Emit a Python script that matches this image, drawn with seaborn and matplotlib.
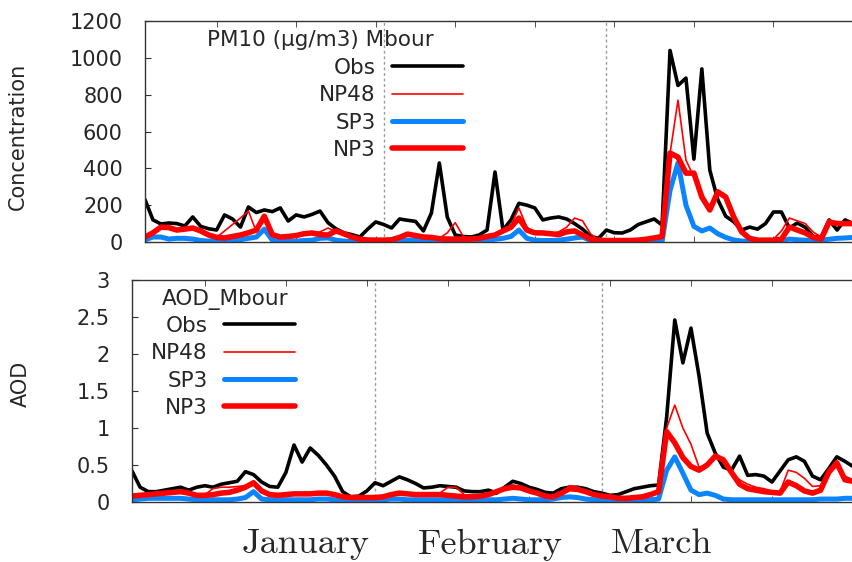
import numpy as np
import seaborn as sns
import matplotlib.pyplot as plt
from matplotlib.ticker import FuncFormatter

# daily values, 1 January .. 31 March
days = np.arange(1, 91)

pm_obs = [230, 120, 98, 103, 100, 87, 136, 85, 72, 65,
          147, 125, 81, 190, 160, 174, 165, 185, 114, 147,
          136, 150, 168, 105, 72, 50, 40, 27, 70, 109,
          95, 76, 125, 118, 112, 60, 157, 429, 135, 38,
          30, 27, 38, 65, 380, 65, 120, 210, 200, 185,
          120, 130, 136, 125, 100, 70, 30, 20, 65, 50,
          49, 65, 95, 110, 125, 92, 1040, 850, 890, 450,
          940, 390, 230, 140, 110, 65, 81, 70, 100, 163,
          163, 76, 103, 80, 30, 27, 120, 65, 120, 100]
pm_np48 = [35, 55, 78, 72, 62, 68, 72, 55, 35, 25,
           60, 95, 130, 168, 55, 140, 38, 27, 30, 35,
           45, 49, 55, 76, 55, 35, 25, 15, 11, 10,
           10, 12, 25, 40, 35, 27, 25, 20, 50, 105,
           30, 16, 20, 30, 38, 60, 90, 185, 80, 50,
           49, 45, 55, 80, 130, 115, 45, 10, 8, 5,
           5, 5, 5, 5, 5, 30, 480, 770, 445, 353,
           266, 174, 282, 255, 136, 49, 15, 15, 15, 15,
           60, 130, 115, 100, 54, 27, 120, 105, 100, 100]
pm_sp3 = [11, 27, 27, 16, 20, 20, 16, 8, 5, 5,
          5, 8, 12, 20, 27, 70, 10, 5, 5, 5,
          8, 10, 20, 22, 10, 5, 3, 2, 2, 2,
          2, 3, 5, 11, 8, 5, 5, 5, 5, 5,
          5, 5, 5, 8, 15, 20, 30, 65, 20, 10,
          8, 8, 10, 15, 22, 27, 8, 3, 2, 2,
          2, 2, 2, 2, 2, 3, 280, 430, 200, 85,
          60, 76, 45, 25, 11, 5, 5, 5, 5, 5,
          5, 16, 12, 10, 8, 10, 15, 20, 22, 25]
pm_np3 = [27, 50, 81, 78, 65, 70, 76, 60, 38, 25,
          22, 30, 38, 50, 65, 140, 40, 27, 30, 35,
          45, 49, 40, 38, 60, 45, 27, 15, 11, 10,
          10, 12, 25, 43, 35, 27, 25, 18, 16, 16,
          16, 16, 20, 30, 38, 60, 80, 130, 65, 50,
          49, 45, 40, 55, 60, 38, 16, 10, 8, 8,
          8, 8, 10, 15, 22, 30, 483, 461, 374, 374,
          244, 174, 272, 244, 136, 55, 20, 10, 10, 10,
          15, 81, 65, 49, 25, 16, 109, 100, 100, 100]

aod_obs = [0.42, 0.2, 0.14, 0.14, 0.16, 0.18, 0.2, 0.16, 0.2, 0.22,
           0.2, 0.24, 0.26, 0.28, 0.41, 0.37, 0.27, 0.21, 0.2, 0.4,
           0.77, 0.54, 0.73, 0.63, 0.5, 0.35, 0.14, 0.07, 0.08, 0.15,
           0.26, 0.22, 0.28, 0.34, 0.3, 0.25, 0.19, 0.2, 0.22, 0.21,
           0.2, 0.15, 0.14, 0.14, 0.16, 0.12, 0.2, 0.28, 0.25, 0.2,
           0.17, 0.13, 0.12, 0.18, 0.2, 0.2, 0.18, 0.14, 0.12, 0.09,
           0.1, 0.14, 0.18, 0.2, 0.22, 0.23, 1.15, 2.46, 1.88, 2.35,
           1.7, 0.93, 0.66, 0.47, 0.43, 0.62, 0.36, 0.37, 0.35, 0.27,
           0.42, 0.57, 0.61, 0.55, 0.35, 0.3, 0.45, 0.61, 0.55, 0.48]
aod_np48 = [0.08, 0.09, 0.1, 0.11, 0.12, 0.13, 0.14, 0.12, 0.09, 0.1,
            0.18, 0.2, 0.2, 0.21, 0.22, 0.27, 0.15, 0.1, 0.09, 0.1,
            0.11, 0.11, 0.11, 0.12, 0.12, 0.1, 0.07, 0.06, 0.06, 0.06,
            0.06, 0.07, 0.1, 0.12, 0.11, 0.1, 0.1, 0.1, 0.12, 0.2,
            0.2, 0.1, 0.07, 0.08, 0.1, 0.14, 0.18, 0.23, 0.2, 0.15,
            0.12, 0.08, 0.07, 0.12, 0.22, 0.2, 0.15, 0.1, 0.08, 0.07,
            0.05, 0.05, 0.06, 0.07, 0.1, 0.14, 1.0, 1.31, 1.0, 0.78,
            0.47, 0.5, 0.62, 0.57, 0.4, 0.3, 0.24, 0.2, 0.18, 0.15,
            0.14, 0.43, 0.4, 0.32, 0.21, 0.22, 0.45, 0.47, 0.35, 0.3]
aod_sp3 = [0.03, 0.04, 0.05, 0.05, 0.05, 0.05, 0.05, 0.04, 0.03, 0.03,
           0.03, 0.03, 0.03, 0.04, 0.06, 0.14, 0.04, 0.03, 0.03, 0.03,
           0.03, 0.03, 0.03, 0.04, 0.04, 0.03, 0.02, 0.02, 0.02, 0.02,
           0.02, 0.03, 0.04, 0.04, 0.03, 0.03, 0.03, 0.03, 0.03, 0.03,
           0.03, 0.03, 0.03, 0.03, 0.03, 0.03, 0.04, 0.05, 0.04, 0.03,
           0.03, 0.03, 0.04, 0.06, 0.07, 0.06, 0.04, 0.03, 0.02, 0.02,
           0.02, 0.02, 0.03, 0.03, 0.03, 0.04, 0.43, 0.61, 0.39, 0.16,
           0.1, 0.12, 0.09, 0.04, 0.03, 0.03, 0.03, 0.03, 0.03, 0.03,
           0.03, 0.03, 0.03, 0.03, 0.03, 0.04, 0.04, 0.04, 0.05, 0.05]
aod_np3 = [0.08, 0.09, 0.1, 0.11, 0.12, 0.13, 0.14, 0.12, 0.09, 0.09,
           0.1, 0.12, 0.13, 0.16, 0.2, 0.26, 0.15, 0.1, 0.09, 0.1,
           0.11, 0.11, 0.11, 0.12, 0.12, 0.1, 0.07, 0.06, 0.06, 0.06,
           0.06, 0.07, 0.1, 0.12, 0.11, 0.1, 0.1, 0.1, 0.1, 0.09,
           0.08, 0.07, 0.07, 0.08, 0.1, 0.14, 0.18, 0.2, 0.19, 0.15,
           0.12, 0.08, 0.07, 0.12, 0.18, 0.17, 0.14, 0.1, 0.08, 0.07,
           0.05, 0.05, 0.06, 0.07, 0.1, 0.14, 0.95, 0.8, 0.6, 0.48,
           0.43, 0.5, 0.62, 0.57, 0.4, 0.24, 0.18, 0.16, 0.14, 0.13,
           0.12, 0.27, 0.22, 0.15, 0.12, 0.16, 0.4, 0.53, 0.3, 0.28]

month_pos = [22.4, 45.2, 66.4]
month_names = ['January', 'February', 'March']
month_ends = [31, 59]

sns.set_style("white")
plt.rcParams['font.family'] = ['DejaVu Sans']

fig = plt.figure(figsize=(8.52, 5.62), dpi=100)
ax1 = fig.add_axes([145/852, 1-242/562, 708/852, 221/562])
ax2 = fig.add_axes([132/852, 1-502/562, 721/852, 222/562])

blue = '#0a84ff'
styles = [('Obs', 'black', 2.6), ('NP48', 'red', 1.2), ('SP3', blue, 3.6), ('NP3', 'red', 4.0)]


def panel(ax, series, title, ylabel, ymax, ystep, leg_xy, title_xy, lab_xy):
    for (name, col, lw), vals in zip(styles, series):
        sns.lineplot(x=days, y=vals, color=col, lw=lw, label=name, ax=ax)
    for m in month_ends:
        ax.axvline(m, color='#999999', lw=1, ls=(0, (2, 2)), zorder=0)
    ax.set_xlim(1, 90)
    ax.set_ylim(0, ymax)
    ax.set_yticks(np.arange(0, ymax + ystep/2, ystep))
    ax.yaxis.set_major_formatter(FuncFormatter(lambda v, p: '%g' % v))
    ax.set_xticks(range(10, 90, 10), minor=True)
    ax.tick_params(axis='x', which='minor', direction='in', top=True, bottom=True, length=4, color='#333333')
    ax.tick_params(axis='y', direction='in', left=True, length=4, pad=16, labelsize=15, color='#333333')
    for s in ax.spines.values():
        s.set_color('#333333')
        s.set_linewidth(1)
    ax.set_ylabel(ylabel, fontsize=15)
    ax.yaxis.set_label_coords(*lab_xy)
    ax.set_xlabel('')
    ax.legend(loc='upper right', bbox_to_anchor=leg_xy, markerfirst=False, frameon=False,
              handlelength=3.3, handletextpad=0.75, labelspacing=0.34, fontsize=15.5,
              borderpad=0, borderaxespad=0)
    ax.text(title_xy[0], title_xy[1], title, transform=ax.transAxes, ha='center', va='center', fontsize=15.5)


panel(ax1, [pm_obs, pm_np48, pm_sp3, pm_np3], 'PM10 (µg/m3) Mbour', 'Concentration',
      1200, 200, ((463-145)/708, (242-58)/221), ((320-145)/708, (242-40)/221), (-0.165, 0.48))
panel(ax2, [aod_obs, aod_np48, aod_sp3, aod_np3], 'AOD_Mbour', 'AOD',
      3, 0.5, ((295-132)/721, (502-316)/222), ((225-132)/721, (502-300)/222), (-0.14, 0.53))

ax1.set_xticks([])
ax2.set_xticks(month_pos, labels=month_names)
ax2.tick_params(axis='x', which='major', length=0, pad=19)
for t in ax2.get_xticklabels():
    t.set_fontfamily('cmr10')
    t.set_fontsize(26)

fig.savefig('out.png', dpi=100)
